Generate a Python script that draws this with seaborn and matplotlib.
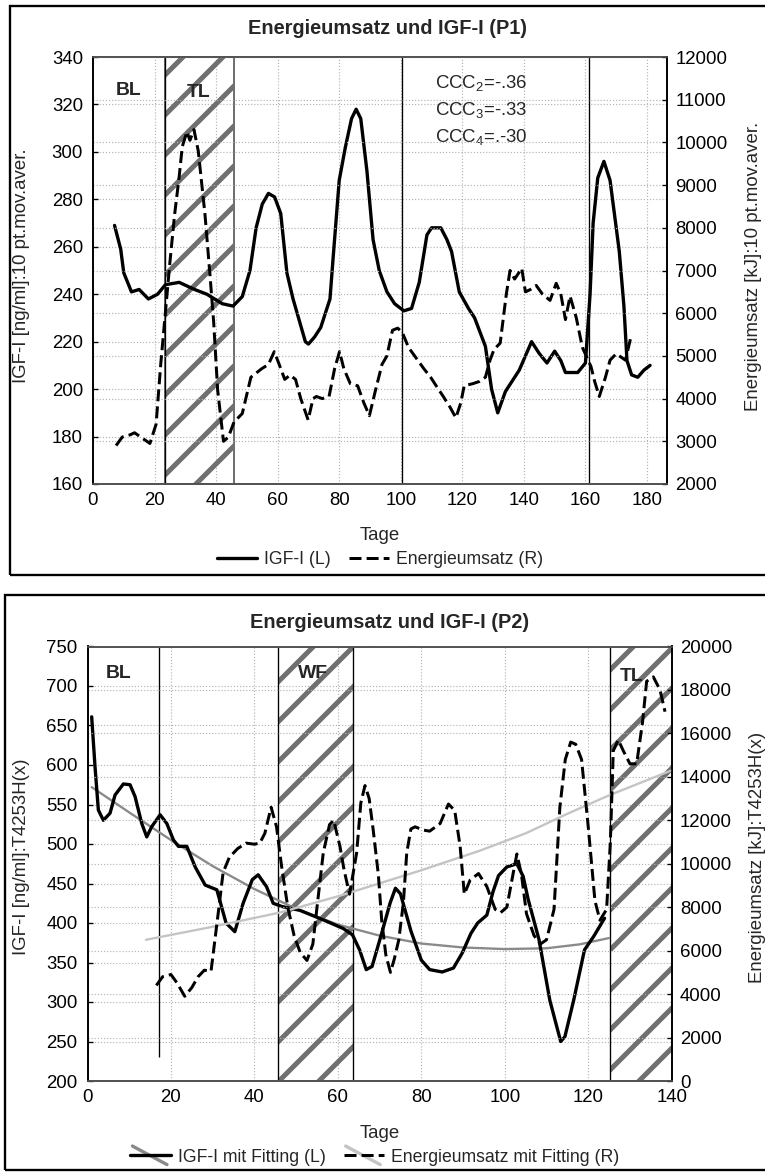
"""
Energieumsatz und IGF-I (P1, P2): two stacked panels with twin y axes.

IGF-I is plotted against the left axis, the energy turnover (dashed)
against the right axis. Study phases are marked with vertical lines and
hatched bands.
"""

import matplotlib
matplotlib.use("Agg")
import matplotlib.pyplot as plt
from matplotlib.legend_handler import HandlerBase
from matplotlib.lines import Line2D
from matplotlib.patches import Rectangle
import seaborn as sns

# ---- P1: 10 pt moving average -------------------------------------------
P1_IGF_DAY = [7, 9, 10, 12.5, 15, 18, 21, 23.5, 28, 33,
              37, 42, 45.5, 48.5, 51, 53, 55, 57, 59, 61,
              63, 65, 67, 69, 70, 72, 74, 77, 78, 80,
              82, 84, 85.5, 87, 89, 91, 93, 95.5, 98, 101,
              103.5, 106, 108.5, 110, 113, 115, 116.5, 119, 122, 124,
              127.5, 129.5, 131.5, 134, 138.5, 140.5, 142.5, 145, 147.5, 150,
              152, 153.5, 157.5, 160, 161.5, 162.5, 164, 166, 168, 169,
              171, 172.5, 173.5, 175, 177, 179, 181]
P1_IGF = [269, 259, 249, 241, 242, 238, 240, 244, 245, 242,
          240, 236, 235, 239, 250, 268, 278, 282.5, 281, 274,
          249, 238, 229, 220, 219, 222, 226, 238, 255, 288,
          302, 314, 318, 314, 292, 263, 250, 241, 236, 233,
          234, 245, 265, 268, 268, 263, 258, 241, 234, 230,
          218, 200, 190, 199, 208, 214, 220, 215, 211, 216,
          212, 207, 207, 211, 240, 270, 289, 296, 288, 278,
          258, 235, 212, 206, 205, 208, 210]

P1_E_DAY = [7.5, 9.5, 12, 13.5, 15.5, 18.5, 20.5, 22, 23.5, 25,
            26.5, 28, 29, 30.5, 31.5, 32.8, 34.2, 36.4, 38, 39.2,
            40.5, 42.4, 44, 45.8, 48.5, 51.3, 54.8, 57, 58.9, 60.5,
            62.3, 64, 65.8, 67.5, 69.9, 71.5, 72.6, 74.5, 76.7, 78.5,
            80.1, 81.5, 83.6, 86, 88, 89.8, 91.8, 93.9, 95.5, 97.3,
            99, 100.5, 102.5, 105.5, 107.5, 109.7, 111.5, 113.8, 116, 117.9,
            119.5, 120.6, 123.4, 125.5, 127.5, 129, 130.3, 132.3, 134.3, 135.5,
            137, 139.3, 140.5, 142, 144, 146, 148.5, 150.5, 152, 153.5,
            155, 157, 159, 161.8, 163, 164.5, 166.5, 168, 170, 172,
            173, 174.8]
P1_E = [2900, 3100, 3150, 3200, 3100, 2950, 3400, 4800, 6000, 7200,
        8300, 9200, 9900, 10250, 10050, 10300, 9800, 8300, 6900, 5800,
        4200, 3000, 3100, 3450, 3650, 4500, 4700, 4800, 5100, 4800,
        4450, 4550, 4450, 4000, 3500, 4000, 4050, 4000, 4050, 4700,
        5100, 4700, 4350, 4300, 3900, 3600, 4200, 4800, 5000, 5600,
        5650, 5550, 5200, 4900, 4700, 4500, 4300, 4050, 3800, 3550,
        3900, 4300, 4350, 4400, 4500, 4900, 5150, 5300, 6450, 7000,
        6800, 7050, 6500, 6550, 6650, 6450, 6300, 6700, 6450, 5850,
        6400, 5900, 5200, 4750, 4400, 4050, 4500, 4900, 5050, 4950,
        4900, 5450]

P1_PHASE_LINES = [23.4, 100.3, 161]
P1_BAND = (23.4, 45.8)
P1_CCC = ["CCC$_2$=-.36", "CCC$_3$=-.33", "CCC$_4$=.-30"]

# ---- P2: T4253H smoothing plus fitted trends -----------------------------
P2_IGF_DAY = [1, 1.8, 2.6, 3.8, 5.4, 6.6, 8.6, 10.2, 11.4, 13,
              14.2, 15.4, 17.4, 19, 20.6, 21.8, 23.8, 25.8, 28.2, 31,
              33.2, 35.3, 37.3, 39.5, 40.9, 42.9, 44.5, 46.5, 50.9, 56.5,
              61.3, 63.5, 65.2, 66.8, 68.2, 70.5, 72.5, 73.8, 75, 77.5,
              80, 82, 85, 87.7, 89.8, 91.9, 93.5, 95.7, 97.2, 98.5,
              100.5, 102.9, 104.4, 105.6, 108.2, 110.8, 113.4, 114.4, 116.5, 119.1,
              121.3, 123.9]
P2_IGF = [661, 598, 543, 530, 539, 562, 576, 575, 560, 526,
          509, 522, 537, 526, 505, 497, 497, 471, 448, 442,
          400, 389, 425, 455, 461, 446, 425, 421, 416, 404,
          393, 385, 366, 341, 345, 387, 425, 444, 437, 390,
          353, 341, 338, 343, 362, 387, 400, 410, 440, 460,
          471, 475, 459, 430, 379, 302, 250, 256, 302, 366,
          383, 406]

P2_E_DAY = [16.5, 18, 20, 21.5, 23.3, 25, 26.5, 28, 29.6, 30.6,
            31.5, 32.5, 34, 36, 38, 40, 41.3, 42.5, 44, 45.3,
            46.5, 48, 49.5, 51, 52.6, 54, 55, 56.5, 58, 59,
            60.5, 61.5, 62.8, 64.5, 65.5, 66.5, 67.5, 68.5, 69.7, 70.5,
            71.5, 72.6, 73.5, 74.6, 75.7, 76.5, 77.5, 78.5, 80.5, 82,
            84.5, 86.5, 88, 89.3, 90.3, 91.7, 93.7, 95.7, 97.7, 99,
            100.5, 102, 102.9, 104, 105.2, 107, 108.5, 110, 111.8, 113.2,
            114.5, 115.8, 117, 118.4, 120, 121.6, 122.8, 124.4, 125.3, 126,
            127.2, 128.4, 130, 131.6, 133, 134, 135.6, 137.2, 138.4]
P2_E = [4400, 4800, 4900, 4500, 3900, 4300, 4800, 5100, 5050, 6600,
        8000, 9600, 10300, 10700, 10950, 10900, 10950, 11400, 12600, 11700,
        9900, 8000, 6700, 5900, 5550, 6300, 8000, 10500, 11800, 12000,
        10800, 9700, 8600, 10500, 12800, 13600, 13000, 11500, 9500, 7400,
        5800, 5000, 5600, 6500, 8200, 10500, 11600, 11700, 11550, 11500,
        11850, 12750, 12450, 10800, 8600, 9250, 9550, 8950, 7900, 7750,
        8000, 9550, 10450, 9500, 7700, 6700, 6300, 6500, 7900, 12600,
        14800, 15600, 15500, 14800, 11700, 8300, 7400, 7900, 11000, 15200,
        15700, 15200, 14600, 14600, 16500, 18400, 18600, 18000, 17000]

P2_IGF_FIT_DAY = [1, 10, 20, 30, 40, 50, 60, 70, 80, 90, 100, 110, 118, 125]
P2_IGF_FIT = [572, 540, 505, 472, 443, 418, 398, 384, 374, 369, 367, 368, 373, 381]
P2_E_FIT_DAY = [14, 30, 46, 60, 70, 80, 94, 105, 115, 125, 140]
P2_E_FIT = [6500, 7100, 7750, 8500, 9100, 9700, 10600, 11400, 12300, 13150, 14300]

P2_BL_LINE = (17.2, 230)          # day, lower end on the IGF axis
P2_BANDS = [(45.7, 63.7), (125.2, 140)]

W, H, DPI = 765, 1173, 120
FS = 11.2
DASH = (0, (4, 1.7))
HATCH_GREY = "#707070"
IGF_FIT_GREY = "#8a8a8a"
E_FIT_GREY = "#c4c4c4"


class FitHandler(HandlerBase):
    """Legend key: the series line with a grey 'fitting' stroke crossing it."""

    def __init__(self, fit_color):
        super().__init__()
        self.fit_color = fit_color

    def create_artists(self, legend, orig_handle, xdescent, ydescent,
                       width, height, fontsize, trans):
        x0, x1 = -xdescent, -xdescent + width
        ym = -ydescent + height / 2
        fit = Line2D([x0 + 0.05 * width, x1 - 0.1 * width],
                     [ym + height * 0.75, ym - height * 0.75],
                     color=self.fit_color, lw=2, transform=trans)
        main = Line2D([x0, x1], [ym, ym])
        main.update_from(orig_handle)
        main.set_transform(trans)
        return [fit, main]


def fx(px):
    return px / W


def fy(py):
    return 1 - py / H


def style_axes(ax, ax2):
    """Excel-like look: dotted grid for both y scales, inward ticks."""
    for a in (ax, ax2):
        a.tick_params(direction="in", length=3, width=0.8, labelsize=FS, colors="black")
        for side in ("top", "bottom"):
            a.spines[side].set_color("#505050")
        for side in ("left", "right"):
            a.spines[side].set_color("black")
        for s in a.spines.values():
            s.set_linewidth(1.0)
    ax.tick_params(axis="x", pad=5)
    ax.tick_params(axis="y", pad=6)
    ax2.tick_params(axis="y", pad=5)
    grid = dict(linestyle=":", color="#b4b4b4", linewidth=0.7)
    ax.grid(True, **grid)
    ax2.grid(True, axis="y", **grid)
    ax2.grid(False, axis="x")
    ax.set_axisbelow(True)
    ax2.set_axisbelow(True)
    ax.set_xlabel("")
    ax.set_ylabel("")
    ax2.set_ylabel("")


def plot_p1(fig):
    ax = fig.add_axes([fx(93), fy(484), fx(667 - 93), (484 - 57) / H])
    ax2 = ax.twinx()

    ax.axvspan(*P1_BAND, facecolor="none", edgecolor=HATCH_GREY, hatch="/",
               linewidth=1.2, zorder=1)
    for d in P1_PHASE_LINES:
        ax.axvline(d, color="black", linewidth=0.8, zorder=2)

    sns.lineplot(x=P1_IGF_DAY, y=P1_IGF, ax=ax, color="black", linewidth=2.0,
                 sort=False, zorder=3)
    sns.lineplot(x=P1_E_DAY, y=P1_E, ax=ax2, color="black", linewidth=1.8,
                 linestyle=DASH, sort=False)

    ax.set_xlim(0, 186.5)
    ax.set_xticks(range(0, 181, 20))
    ax.set_ylim(160, 340)
    ax.set_yticks(range(160, 341, 20))
    ax2.set_ylim(2000, 12000)
    ax2.set_yticks(range(2000, 12001, 1000))
    style_axes(ax, ax2)

    bold = dict(fontsize=FS + 0.4, fontweight="bold", ha="center", va="center")
    ax.text(11.5, 326, "BL", **bold)
    ax.text(34.2, 325, "TL", **bold)
    for txt, yv in zip(P1_CCC, [329, 317.7, 306.4]):
        ax.text(111, yv, txt, fontsize=FS, ha="left", va="center")

    fig.text(fx(388), fy(28), "Energieumsatz und IGF-I (P1)", fontsize=FS + 0.8,
             fontweight="bold", ha="center", va="center")
    fig.text(fx(22), fy(266), "IGF-I [ng/ml]:10 pt.mov.aver.", rotation=90,
             fontsize=FS, ha="center", va="center")
    fig.text(fx(753), fy(266), "Energieumsatz [kJ]:10 pt.mov.aver.", rotation=90,
             fontsize=FS, ha="center", va="center")
    fig.text(fx(380), fy(536), "Tage", fontsize=FS, ha="center", va="center")

    handles = [Line2D([], [], color="black", lw=2.0),
               Line2D([], [], color="black", lw=1.8, linestyle=DASH)]
    fig.legend(handles, ["IGF-I (L)", "Energieumsatz (R)"], loc="center",
               bbox_to_anchor=(fx(380), fy(560)), ncol=2, frameon=False,
               fontsize=FS - 0.6, handlelength=2.3, handletextpad=0.4,
               columnspacing=1.0, borderpad=0.1)

    fig.add_artist(Rectangle((fx(10), fy(575)), 1.0, (575 - 6) / H,
                             transform=fig.transFigure, fill=False,
                             edgecolor="black", linewidth=1.4))


def plot_p2(fig):
    ax = fig.add_axes([fx(87.5), fy(1081), fx(671.7 - 87.5), (1081 - 646.5) / H])
    ax2 = ax.twinx()

    for lo, hi in P2_BANDS:
        ax.axvspan(lo, hi, facecolor="none", edgecolor=HATCH_GREY, hatch="/",
                   linewidth=0, zorder=1)
        for d in (lo, hi):
            if d < 140:
                ax.axvline(d, color="black", linewidth=0.8, zorder=2)
    ax.vlines(P2_BL_LINE[0], P2_BL_LINE[1], 750, color="black", linewidth=0.8, zorder=2)

    sns.lineplot(x=P2_IGF_FIT_DAY, y=P2_IGF_FIT, ax=ax, color=IGF_FIT_GREY,
                 linewidth=1.4, sort=False, zorder=3)
    sns.lineplot(x=P2_IGF_DAY, y=P2_IGF, ax=ax, color="black", linewidth=2.0,
                 sort=False, zorder=4)
    sns.lineplot(x=P2_E_FIT_DAY, y=P2_E_FIT, ax=ax2, color=E_FIT_GREY,
                 linewidth=1.4, sort=False)
    sns.lineplot(x=P2_E_DAY, y=P2_E, ax=ax2, color="black", linewidth=1.8,
                 linestyle=DASH, sort=False)

    ax.set_xlim(0, 140)
    ax.set_xticks(range(0, 141, 20))
    ax.set_ylim(200, 750)
    ax.set_yticks(range(200, 751, 50))
    ax2.set_ylim(0, 20000)
    ax2.set_yticks(range(0, 20001, 2000))
    style_axes(ax, ax2)

    bold = dict(fontsize=FS + 0.4, fontweight="bold", ha="center", va="center")
    ax.text(7.4, 716, "BL", **bold)
    ax.text(54.1, 716, "WF", **bold)
    ax.text(130.4, 712, "TL", **bold)

    fig.text(fx(390), fy(623), "Energieumsatz und IGF-I (P2)", fontsize=FS + 0.8,
             fontweight="bold", ha="center", va="center")
    fig.text(fx(22), fy(857), "IGF-I [ng/ml]:T4253H(x)", rotation=90,
             fontsize=FS, ha="center", va="center")
    fig.text(fx(757), fy(857), "Energieumsatz [kJ]:T4253H(x)", rotation=90,
             fontsize=FS, ha="center", va="center")
    fig.text(fx(380), fy(1133), "Tage", fontsize=FS, ha="center", va="center")

    h_igf = Line2D([], [], color="black", lw=2.0)
    h_e = Line2D([], [], color="black", lw=1.8, linestyle=DASH)
    fig.legend([h_igf, h_e], ["IGF-I mit Fitting (L)", "Energieumsatz mit Fitting (R)"],
               loc="center", bbox_to_anchor=(fx(375), fy(1157)), ncol=2,
               frameon=False, fontsize=FS - 0.6, handlelength=2.3,
               handletextpad=0.4, columnspacing=1.0, borderpad=0.1,
               handler_map={h_igf: FitHandler(IGF_FIT_GREY),
                            h_e: FitHandler(E_FIT_GREY)})

    fig.add_artist(Rectangle((fx(5), fy(1170)), 1.0, (1170 - 595) / H,
                             transform=fig.transFigure, fill=False,
                             edgecolor="black", linewidth=1.4))


def main():
    sns.set_style("white")
    plt.rcParams["font.family"] = ["Liberation Sans", "DejaVu Sans"]
    plt.rcParams["mathtext.default"] = "regular"
    plt.rcParams["hatch.linewidth"] = 3.0
    plt.rcParams["hatch.color"] = HATCH_GREY

    fig = plt.figure(figsize=(W / DPI, H / DPI), dpi=DPI)
    plot_p1(fig)
    plot_p2(fig)
    fig.savefig("out.png", dpi=DPI)


if __name__ == "__main__":
    main()
